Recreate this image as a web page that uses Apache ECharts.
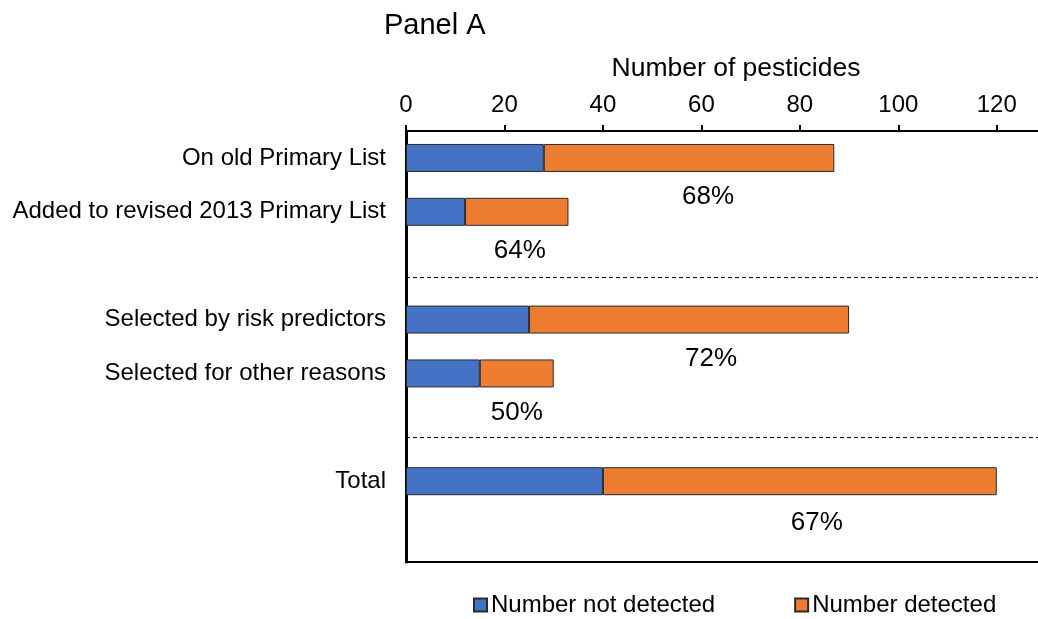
<!DOCTYPE html>
<html>
<head>
<meta charset="utf-8">
<script src="https://cdn.jsdelivr.net/npm/echarts@6/dist/echarts.min.js"></script>
<style>html,body{margin:0;padding:0;background:#fff}#c{width:1038px;height:619px}</style>
</head>
<body>
<div id="c"></div>
<script>
var categories = ['On old Primary List', 'Added to revised 2013 Primary List', '', 'Selected by risk predictors', 'Selected for other reasons', '', 'Total', ''];
var notDetected = [28, 12, null, 25, 15, null, 40, null];
var detected = [59, 21, null, 65, 15, null, 80, null];
var pctLabels = ['68%', '64%', '', '72%', '50%', '', '67%', ''];
var separators = [2.72, 5.69];
var xTicks = [0, 20, 40, 60, 80, 100, 120];

var labelShift = [19, 3, 0, 22, 0, 0, 17, 0];
var font = 'Liberation Sans, Arial, sans-serif';

var chart = echarts.init(document.getElementById('c'));
var sepSeries = separators.map(function (s) {
  return {
    type: 'line', xAxisIndex: 0, yAxisIndex: 1, symbol: 'none', silent: true,
    lineStyle: { color: '#000', width: 1, type: [4, 3] },
    data: [[0, s], [130, s]], z: 1
  };
});
chart.setOption({
  animation: false,
  textStyle: { fontFamily: font },
  title: { text: 'Panel A', left: 379, top: 6, textStyle: { fontSize: 29, fontWeight: 'normal', color: '#000', fontFamily: font } },
  legend: {
    bottom: -3, left: 468, itemGap: 79, itemWidth: 13, itemHeight: 13, icon: 'rect',
    textStyle: { fontSize: 24, color: '#000', fontFamily: font, padding: [0, 0, 0, -1] },
    data: ['Number not detected', 'Number detected']
  },
  grid: { left: 406, top: 131, width: 640, bottom: 57, containLabel: false, outerBoundsMode: 'none' },
  xAxis: [{
    type: 'value', position: 'top', min: 0, max: 130, interval: 20,
    name: 'Number of pesticides', nameLocation: 'middle', nameGap: 49,
    nameTextStyle: { fontSize: 26.5, color: '#000', fontFamily: font, padding: [0, 0, 0, 20] },
    axisLine: { show: true, lineStyle: { color: '#000', width: 2 } },
    axisTick: { show: true, length: 6, inside: false, lineStyle: { color: '#000', width: 2 } },
    axisLabel: { fontSize: 24, color: '#000', margin: 14, fontFamily: font,
      formatter: function (v) { return xTicks.indexOf(v) >= 0 ? String(v) : ''; } },
    splitLine: { show: false }
  }, {
    type: 'value', position: 'bottom', min: 0, max: 130,
    axisLine: { show: true, onZero: false, lineStyle: { color: '#000', width: 2 } },
    axisTick: { show: false }, axisLabel: { show: false }, splitLine: { show: false }
  }],
  yAxis: [{
    type: 'category', inverse: true, data: categories,
    axisLine: { show: true, lineStyle: { color: '#000', width: 3 } },
    axisTick: { show: false },
    axisLabel: { fontSize: 24, color: '#000', margin: 20, fontFamily: font },
    splitLine: { show: false }
  }, {
    type: 'value', inverse: true, min: 0, max: 8, show: false
  }],
  series: [{
    name: 'Number not detected', type: 'bar', stack: 'a', barWidth: 28,
    itemStyle: { color: '#4472C4', borderColor: '#2b2b2b', borderWidth: 1 },
    data: notDetected, z: 3
  }, {
    name: 'Number detected', type: 'bar', stack: 'a', barWidth: 28,
    itemStyle: { color: '#ED7D31', borderColor: '#2b2b2b', borderWidth: 1 },
    data: detected.map(function (v, i) {
      return { value: v, label: { offset: [labelShift[i], i === 6 ? 3 : 0] } };
    }),
    label: {
      show: true, position: 'bottom', distance: 12, fontSize: 26, color: '#000', fontFamily: font,
      formatter: function (p) { return pctLabels[p.dataIndex]; }
    }, z: 3
  }].concat(sepSeries)
});
</script>
</body>
</html>
